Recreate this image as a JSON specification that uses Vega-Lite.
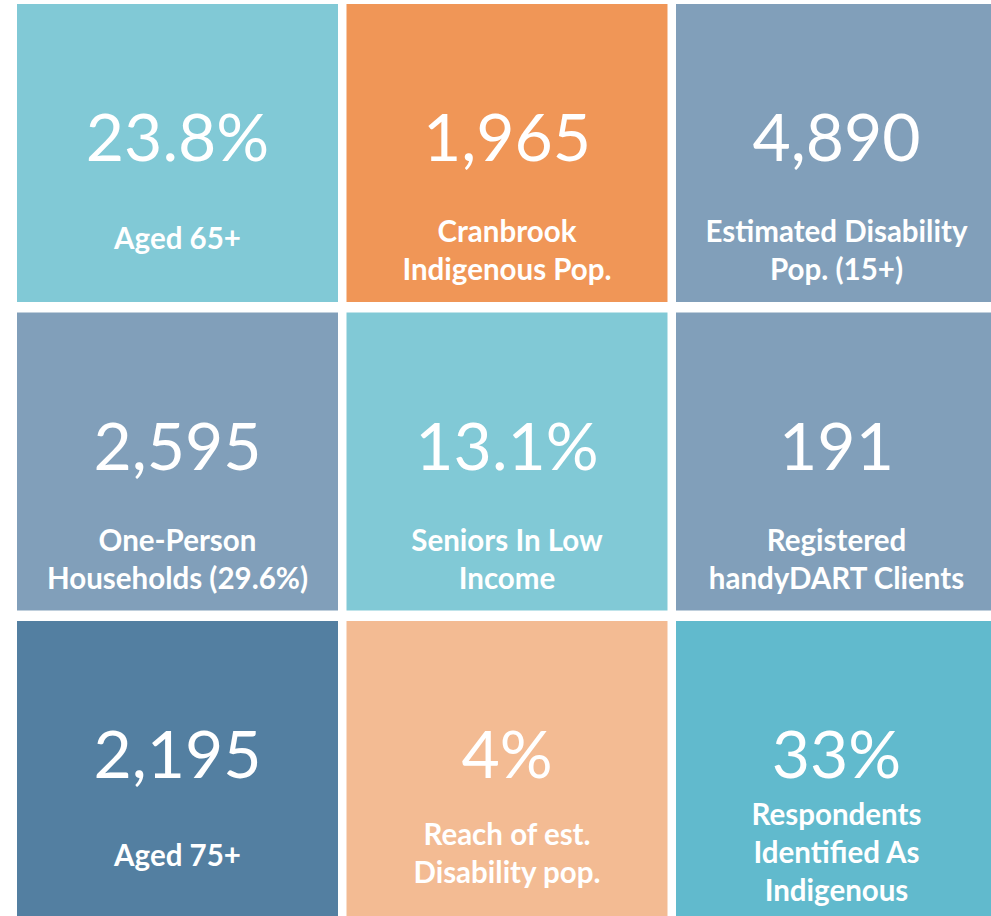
{
  "$schema": "https://vega.github.io/schema/vega-lite/v6.json",
  "width": 991,
  "height": 916,
  "padding": 0,
  "autosize": {"type": "none"},
  "background": "white",
  "config": {"view": {"stroke": null}},
  "data": {
    "values": [
      {"col": 1, "row": 1, "value": "23.8%", "label": "Aged 65+", "lines": 1, "group": "light teal"},
      {"col": 2, "row": 1, "value": "1,965", "label": "Cranbrook\nIndigenous Pop.", "lines": 2, "group": "orange"},
      {"col": 3, "row": 1, "value": "4,890", "label": "Estimated Disability\nPop. (15+)", "lines": 2, "group": "slate"},
      {"col": 1, "row": 2, "value": "2,595", "label": "One-Person\nHouseholds (29.6%)", "lines": 2, "group": "slate"},
      {"col": 2, "row": 2, "value": "13.1%", "label": "Seniors In Low\nIncome", "lines": 2, "group": "light teal"},
      {"col": 3, "row": 2, "value": "191", "label": "Registered\nhandyDART Clients", "lines": 2, "group": "slate"},
      {"col": 1, "row": 3, "value": "2,195", "label": "Aged 75+", "lines": 1, "group": "navy"},
      {"col": 2, "row": 3, "value": "4%", "label": "Reach of est.\nDisability pop.", "lines": 2, "group": "peach"},
      {"col": 3, "row": 3, "value": "33%", "label": "Respondents\nIdentified As\nIndigenous", "lines": 3, "group": "teal"}
    ]
  },
  "encoding": {
    "x": {"field": "col", "type": "ordinal", "axis": null,
      "scale": {"domain": [1, 2, 3], "range": [17, 997], "paddingInner": 0.0258, "paddingOuter": 0}},
    "y": {"field": "row", "type": "ordinal", "axis": null,
      "scale": {"domain": [1, 2, 3], "range": [4, 919], "paddingInner": 0.034, "paddingOuter": 0}}
  },
  "layer": [
    {
      "mark": {"type": "rect"},
      "encoding": {
        "color": {"field": "group", "type": "nominal", "legend": null,
          "scale": {"domain": ["light teal", "orange", "slate", "navy", "peach", "teal"],
                    "range": ["#81C9D6", "#F09657", "#819FBA", "#537FA1", "#F3BB93", "#61BACD"]}}
      }
    },
    {
      "mark": {"type": "text", "font": "Lato", "fontSize": 66, "color": "white", "align": "center", "baseline": "alphabetic"},
      "encoding": {
        "text": {"field": "value"},
        "y": {"field": "row", "type": "ordinal", "bandPosition": 0.527}
      }
    },
    {
      "transform": [{"filter": "datum.lines == 1"}],
      "mark": {"type": "text", "font": "Lato", "fontWeight": "bold", "fontSize": 29.5, "lineHeight": 38, "lineBreak": "\n", "color": "white", "align": "center", "baseline": "alphabetic"},
      "encoding": {
        "text": {"field": "label"},
        "y": {"field": "row", "type": "ordinal", "bandPosition": 0.822}
      }
    },
    {
      "transform": [{"filter": "datum.lines == 2 && datum.row < 3"}],
      "mark": {"type": "text", "font": "Lato", "fontWeight": "bold", "fontSize": 29.5, "lineHeight": 38, "lineBreak": "\n", "color": "white", "align": "center", "baseline": "alphabetic"},
      "encoding": {
        "text": {"field": "label"},
        "y": {"field": "row", "type": "ordinal", "bandPosition": 0.8}
      }
    },
    {
      "transform": [{"filter": "datum.lines == 2 && datum.row == 3"}],
      "mark": {"type": "text", "font": "Lato", "fontWeight": "bold", "fontSize": 29.5, "lineHeight": 38, "lineBreak": "\n", "color": "white", "align": "center", "baseline": "alphabetic"},
      "encoding": {
        "text": {"field": "label"},
        "y": {"field": "row", "type": "ordinal", "bandPosition": 0.752}
      }
    },
    {
      "transform": [{"filter": "datum.lines == 3"}],
      "mark": {"type": "text", "font": "Lato", "fontWeight": "bold", "fontSize": 29.5, "lineHeight": 38, "lineBreak": "\n", "color": "white", "align": "center", "baseline": "alphabetic"},
      "encoding": {
        "text": {"field": "label"},
        "y": {"field": "row", "type": "ordinal", "bandPosition": 0.685}
      }
    }
  ]
}
